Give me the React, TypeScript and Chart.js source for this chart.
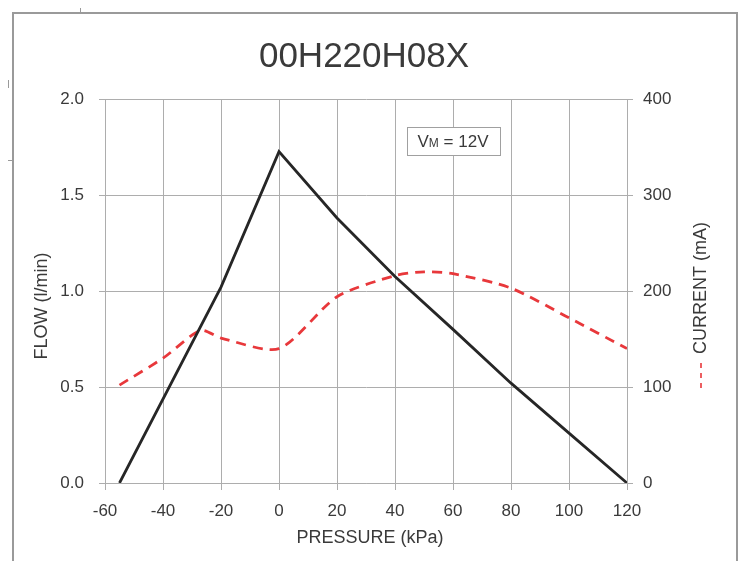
import React, { useEffect, useRef } from "react";
import { Chart, registerables } from "chart.js";

Chart.register(...registerables);

// ---- data ----
const flowPressure = [-55, -20, 0, 20, 40, 60, 80, 100, 120];
const flowValues = [0, 1.02, 1.726, 1.38, 1.075, 0.8, 0.52, 0.26, 0];

const currentPressure = [-55, -40, -27, -20, 0, 20, 40, 50, 60, 80, 100, 120];
const currentValues = [102, 130, 159, 151, 140, 194, 216, 220, 218, 203, 172, 140];

const xTicks = [-60, -40, -20, 0, 20, 40, 60, 80, 100, 120];
const flowTicks = [0, 0.5, 1.0, 1.5, 2.0];
const currentTicks = [0, 100, 200, 300, 400];

const chartTitle = "00H220H08X";
const xTitle = "PRESSURE (kPa)";
const yTitle = "FLOW (l/min)";
const y1Title = "CURRENT (mA)";
const noteMain = "V";
const noteSub = "M";
const noteRest = " = 12V";
const notePos = { x: 60, y: 1.78 };

const FONT = "'Liberation Sans', Arial, Helvetica, sans-serif";
const TEXT = "#3a3a3a";
const GRID = "#adadad";
const RED = "#e8383b";
const BLACK = "#262626";

const decorPlugin = {
  id: "decor",
  afterDraw(chart: any) {
    const ctx = chart.ctx as CanvasRenderingContext2D;
    const xs = chart.scales.x;
    const ys = chart.scales.y;
    ctx.save();
    ctx.fillStyle = TEXT;
    ctx.textBaseline = "alphabetic";
    ctx.textAlign = "center";
    // title
    ctx.font = `35px ${FONT}`;
    ctx.fillText(chartTitle, 364, 67);
    // x title
    ctx.font = `18px ${FONT}`;
    ctx.fillText(xTitle, 370, 543);
    // left title
    ctx.save();
    ctx.translate(47, 306);
    ctx.rotate(-Math.PI / 2);
    ctx.fillText(yTitle, 0, 0);
    ctx.restore();
    // right title
    ctx.save();
    ctx.translate(706, 288);
    ctx.rotate(-Math.PI / 2);
    ctx.fillText(y1Title, 0, 0);
    ctx.restore();
    // red dashes legend
    ctx.strokeStyle = RED;
    ctx.lineWidth = 1.6;
    ctx.beginPath();
    for (let i = 0; i < 3; i++) {
      const y0 = 363 + i * 10;
      ctx.moveTo(701, y0);
      ctx.lineTo(701, y0 + 5);
    }
    ctx.stroke();
    // note box
    const cx = xs.getPixelForValue(notePos.x);
    const cy = ys.getPixelForValue(notePos.y);
    const w = 93;
    const h = 28;
    ctx.fillStyle = "#ffffff";
    ctx.fillRect(cx - w / 2, cy - h / 2, w, h);
    ctx.strokeStyle = "#a0a0a0";
    ctx.lineWidth = 1;
    ctx.strokeRect(Math.round(cx - w / 2) + 0.5, Math.round(cy - h / 2) + 0.5, w, h);
    ctx.fillStyle = TEXT;
    ctx.textAlign = "left";
    ctx.font = `17px ${FONT}`;
    const wV = ctx.measureText(noteMain).width;
    ctx.font = `12px ${FONT}`;
    const wM = ctx.measureText(noteSub).width;
    ctx.font = `17px ${FONT}`;
    const wR = ctx.measureText(noteRest).width;
    let tx = cx - (wV + wM + wR) / 2;
    const base = cy + 6;
    ctx.fillText(noteMain, tx, base);
    tx += wV;
    ctx.font = `12px ${FONT}`;
    ctx.fillText(noteSub, tx, base);
    tx += wM;
    ctx.font = `17px ${FONT}`;
    ctx.fillText(noteRest, tx, base);
    ctx.restore();
  },
};

export default function App() {
  const ref = useRef<HTMLCanvasElement | null>(null);

  useEffect(() => {
    if (!ref.current) return;
    const chart = new Chart(ref.current, {
      type: "line",
      data: {
        datasets: [
          {
            label: "Flow",
            data: flowPressure.map((p, i) => ({ x: p, y: flowValues[i] })),
            yAxisID: "y",
            borderColor: BLACK,
            borderWidth: 2.8,
            pointRadius: 0,
            tension: 0,
            fill: false,
          },
          {
            label: "Current",
            data: currentPressure.map((p, i) => ({ x: p, y: currentValues[i] })),
            yAxisID: "y1",
            borderColor: RED,
            borderWidth: 2.8,
            borderDash: [10, 7],
            pointRadius: 0,
            tension: 0.25,
            fill: false,
          },
        ],
      },
      options: {
        responsive: false,
        animation: false,
        devicePixelRatio: 1,
        layout: { padding: { top: 99, left: 0, right: 0, bottom: 0 } },
        plugins: {
          legend: { display: false },
          title: { display: false },
          tooltip: { enabled: false },
        },
        scales: {
          x: {
            type: "linear",
            min: -60,
            max: 120,
            afterBuildTicks: (s: any) => {
              s.ticks = xTicks.map((v) => ({ value: v }));
            },
            afterFit: (s: any) => {
              s.height = 78;
            },
            grid: { color: GRID, lineWidth: 1, tickLength: 7, drawTicks: true },
            border: { display: true, color: GRID, width: 1 },
            ticks: {
              color: TEXT,
              font: { family: FONT, size: 17 },
              padding: 11,
              maxRotation: 0,
              autoSkip: false,
            },
          },
          y: {
            type: "linear",
            position: "left",
            min: 0,
            max: 2,
            afterBuildTicks: (s: any) => {
              s.ticks = flowTicks.map((v) => ({ value: v }));
            },
            afterFit: (s: any) => {
              s.width = 105;
            },
            grid: { color: GRID, lineWidth: 1, tickLength: 6 },
            border: { display: true, color: GRID, width: 1 },
            ticks: {
              color: TEXT,
              font: { family: FONT, size: 17 },
              padding: 15,
              callback: (v: any) => Number(v).toFixed(1),
            },
          },
          y1: {
            type: "linear",
            position: "right",
            min: 0,
            max: 400,
            afterBuildTicks: (s: any) => {
              s.ticks = currentTicks.map((v) => ({ value: v }));
            },
            afterFit: (s: any) => {
              s.width = 742 - 627;
            },
            grid: { color: GRID, lineWidth: 1, tickLength: 6, drawOnChartArea: false },
            border: { display: true, color: GRID, width: 1 },
            ticks: {
              color: TEXT,
              font: { family: FONT, size: 17 },
              padding: 10,
            },
          },
        },
      },
      plugins: [decorPlugin],
    });
    return () => chart.destroy();
  }, []);

  const line = (s: React.CSSProperties) => (
    <div style={{ position: "absolute", background: "#9a9a9a", ...s }} />
  );

  return (
    <div style={{ position: "absolute", left: 0, top: 0, width: 742, height: 561, background: "#fff", overflow: "hidden" }}>
      <canvas ref={ref} width={742} height={561} style={{ position: "absolute", left: 0, top: 0, width: 742, height: 561 }} />
      {line({ left: 12, top: 12, width: 725, height: 1.5 })}
      {line({ left: 12, top: 12, width: 1.5, height: 560 })}
      {line({ left: 736, top: 12, width: 1.5, height: 560 })}
      {line({ left: 80, top: 8, width: 1, height: 5 })}
      {line({ left: 8, top: 80, width: 1, height: 8 })}
      {line({ left: 8, top: 160, width: 5, height: 1 })}
    </div>
  );
}
